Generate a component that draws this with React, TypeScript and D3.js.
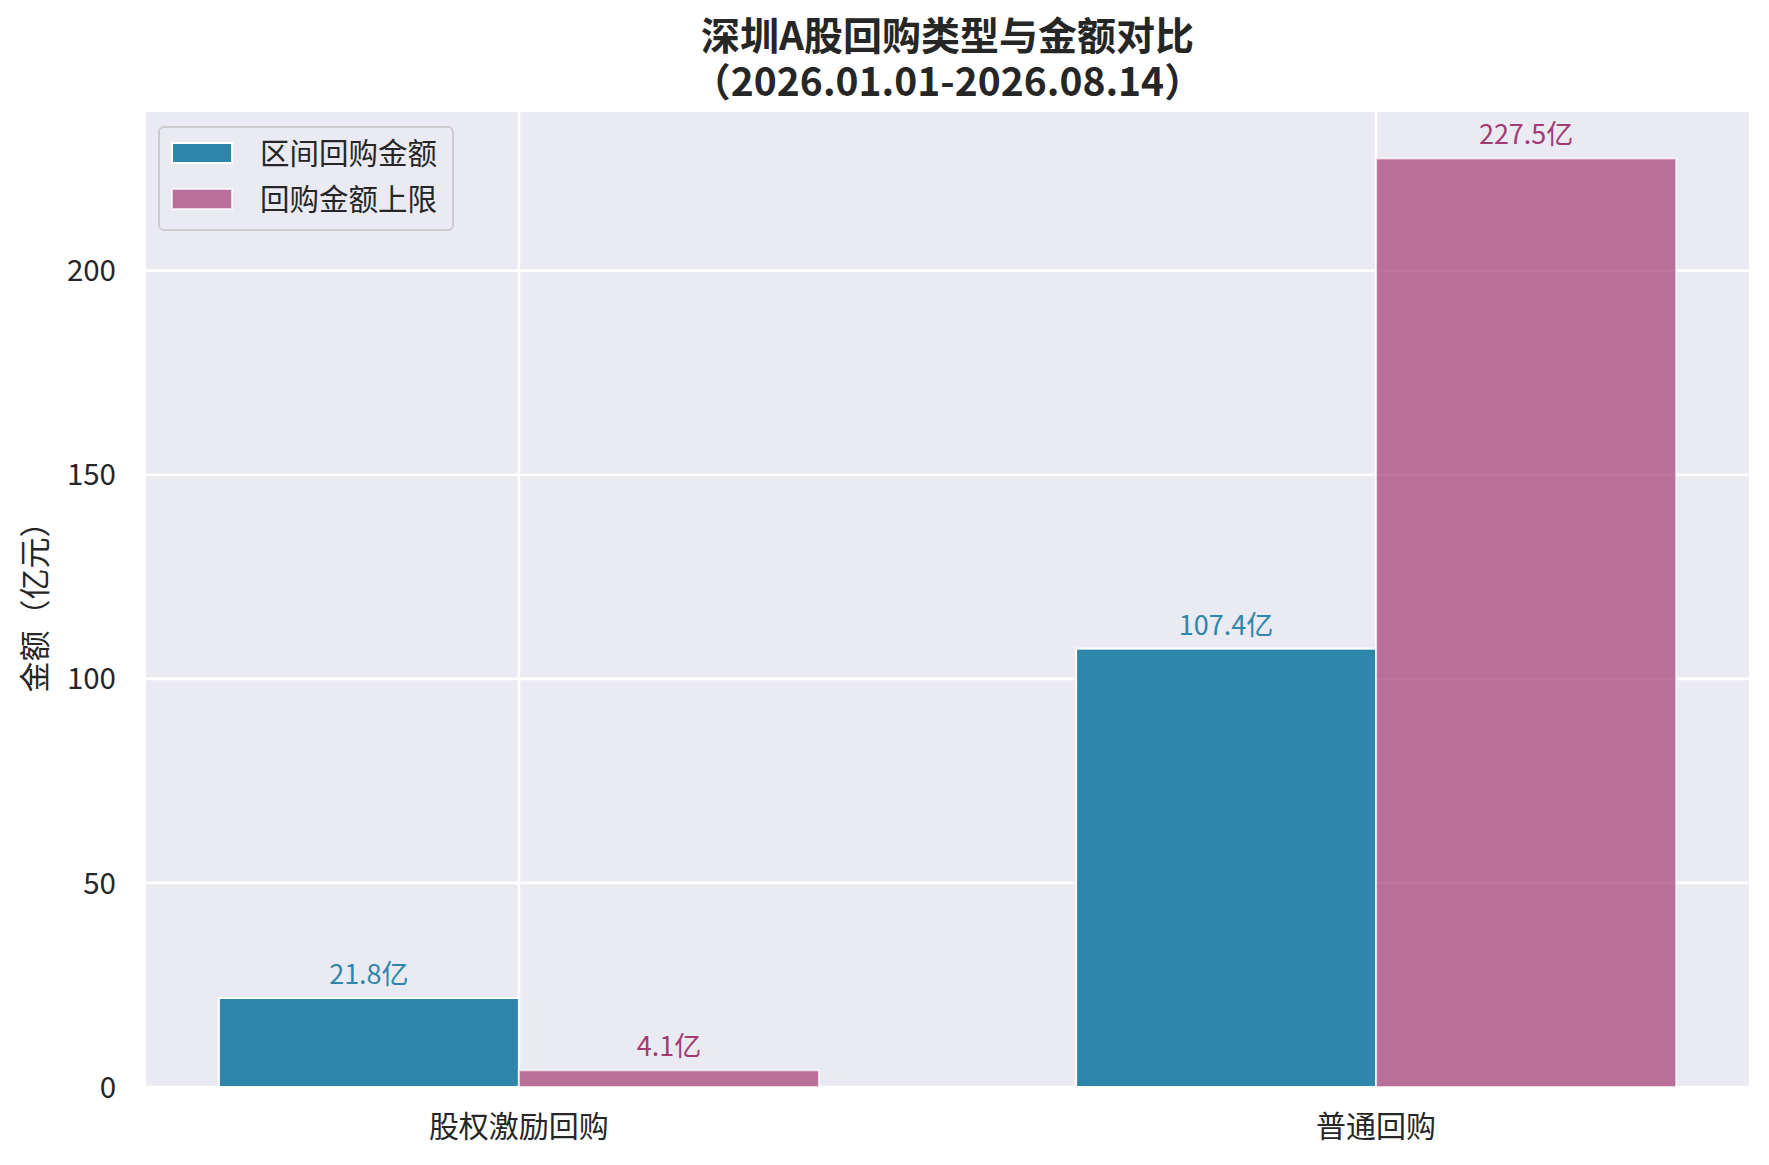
import React from "react";
import * as d3 from "d3";

const categories = ["股权激励回购", "普通回购"];
const seriesNames = ["区间回购金额", "回购金额上限"];
const intervalAmount = [21.8, 107.4];
const upperLimit = [4.1, 227.5];
const yTicks = [0, 50, 100, 150, 200];
const titleLines = ["深圳A股回购类型与金额对比", "（2026.01.01-2026.08.14）"];
const yLabel = "金额（亿元）";

const W = 1769;
const H = 1165;
const FONT = '"Noto Sans CJK SC", "Noto Sans", sans-serif';
const BLUE = "#2e86ab";
const PINK = "#a23b72";
const TEXT = "#262626";

export default function App() {
  const left = 146, right = 1749, top = 112, bottom = 1087;
  const barW = 0.35;
  const maxV = d3.max(upperLimit.concat(intervalAmount)) as number;
  const x = d3.scaleLinear().domain([-0.435, 1.435]).range([left, right]);
  const y = d3.scaleLinear().domain([0, maxV * 1.05]).range([bottom, top]);
  const series = [
    { name: seriesNames[0], values: intervalAmount, color: BLUE, alpha: 1, offset: -barW / 2 },
    { name: seriesNames[1], values: upperLimit, color: PINK, alpha: 0.7, offset: barW / 2 },
  ];
  const bw = x(barW) - x(0);

  return (
    <svg
      width={W}
      height={H}
      viewBox={`0 0 ${W} ${H}`}
      style={{ position: "absolute", left: 0, top: 0, background: "#fff" }}
      fontFamily={FONT}
    >
      <rect x={0} y={0} width={W} height={H} fill="#ffffff" />
      {/* plot background */}
      <rect x={left} y={top} width={right - left} height={bottom - top} fill="#eaeaf2" />
      {/* grid */}
      {yTicks.map((t) => (
        <line key={"gy" + t} x1={left} x2={right} y1={y(t)} y2={y(t)} stroke="#ffffff" strokeWidth={2.6} />
      ))}
      {categories.map((c, i) => (
        <line key={"gx" + i} x1={x(i)} x2={x(i)} y1={top} y2={bottom} stroke="#ffffff" strokeWidth={2.6} />
      ))}
      {/* bars */}
      {series.map((s) =>
        s.values.map((v, i) => {
          const cx = x(i + s.offset);
          return (
            <rect
              key={s.name + i}
              x={cx - bw / 2}
              y={y(v)}
              width={bw}
              height={y(0) - y(v)}
              fill={s.color}
              fillOpacity={s.alpha}
              stroke="#ffffff"
              strokeOpacity={s.alpha}
              strokeWidth={2}
            />
          );
        })
      )}
      {/* value labels */}
      {series.map((s) =>
        s.values.map((v, i) => (
          <text
            key={"lbl" + s.name + i}
            x={x(i + s.offset)}
            y={y(v) - 14}
            textAnchor="middle"
            fontSize={27}
            fill={s.color}
          >
            {v.toFixed(1) + "亿"}
          </text>
        ))
      )}
      {/* y ticks */}
      {yTicks.map((t) => (
        <text key={"yt" + t} x={left - 30} y={y(t)} dy="0.36em" textAnchor="end" fontSize={29.5} fill={TEXT}>
          {t}
        </text>
      ))}
      {/* x ticks */}
      {categories.map((c, i) => (
        <text key={"xt" + i} x={x(i)} y={1137} textAnchor="middle" fontSize={30} fill={TEXT}>
          {c}
        </text>
      ))}
      {/* y label */}
      <text
        transform={`translate(46, ${(top + bottom) / 2}) rotate(-90)`}
        textAnchor="middle"
        fontSize={31}
        fill={TEXT}
      >
        {yLabel}
      </text>
      {/* title */}
      {titleLines.map((t, k) => (
        <text
          key={"title" + k}
          x={(left + right) / 2}
          y={50 + k * 46}
          textAnchor="middle"
          fontSize={39}
          fontWeight="bold"
          fill={TEXT}
        >
          {t}
        </text>
      ))}
      {/* legend */}
      <g>
        <rect x={159} y={127} width={294} height={103} rx={5} ry={5} fill="#eaeaf2" fillOpacity={0.8} stroke="#cccccc" strokeWidth={2} />
        {series.map((s, k) => (
          <g key={"leg" + k}>
            <rect
              x={172}
              y={143 + k * 46}
              width={60}
              height={20}
              fill={s.color}
              fillOpacity={s.alpha}
              stroke="#ffffff"
              strokeOpacity={s.alpha}
              strokeWidth={2}
            />
            <text x={260} y={153 + k * 46} dy="0.36em" fontSize={29.5} fill={TEXT}>
              {s.name}
            </text>
          </g>
        ))}
      </g>
    </svg>
  );
}
